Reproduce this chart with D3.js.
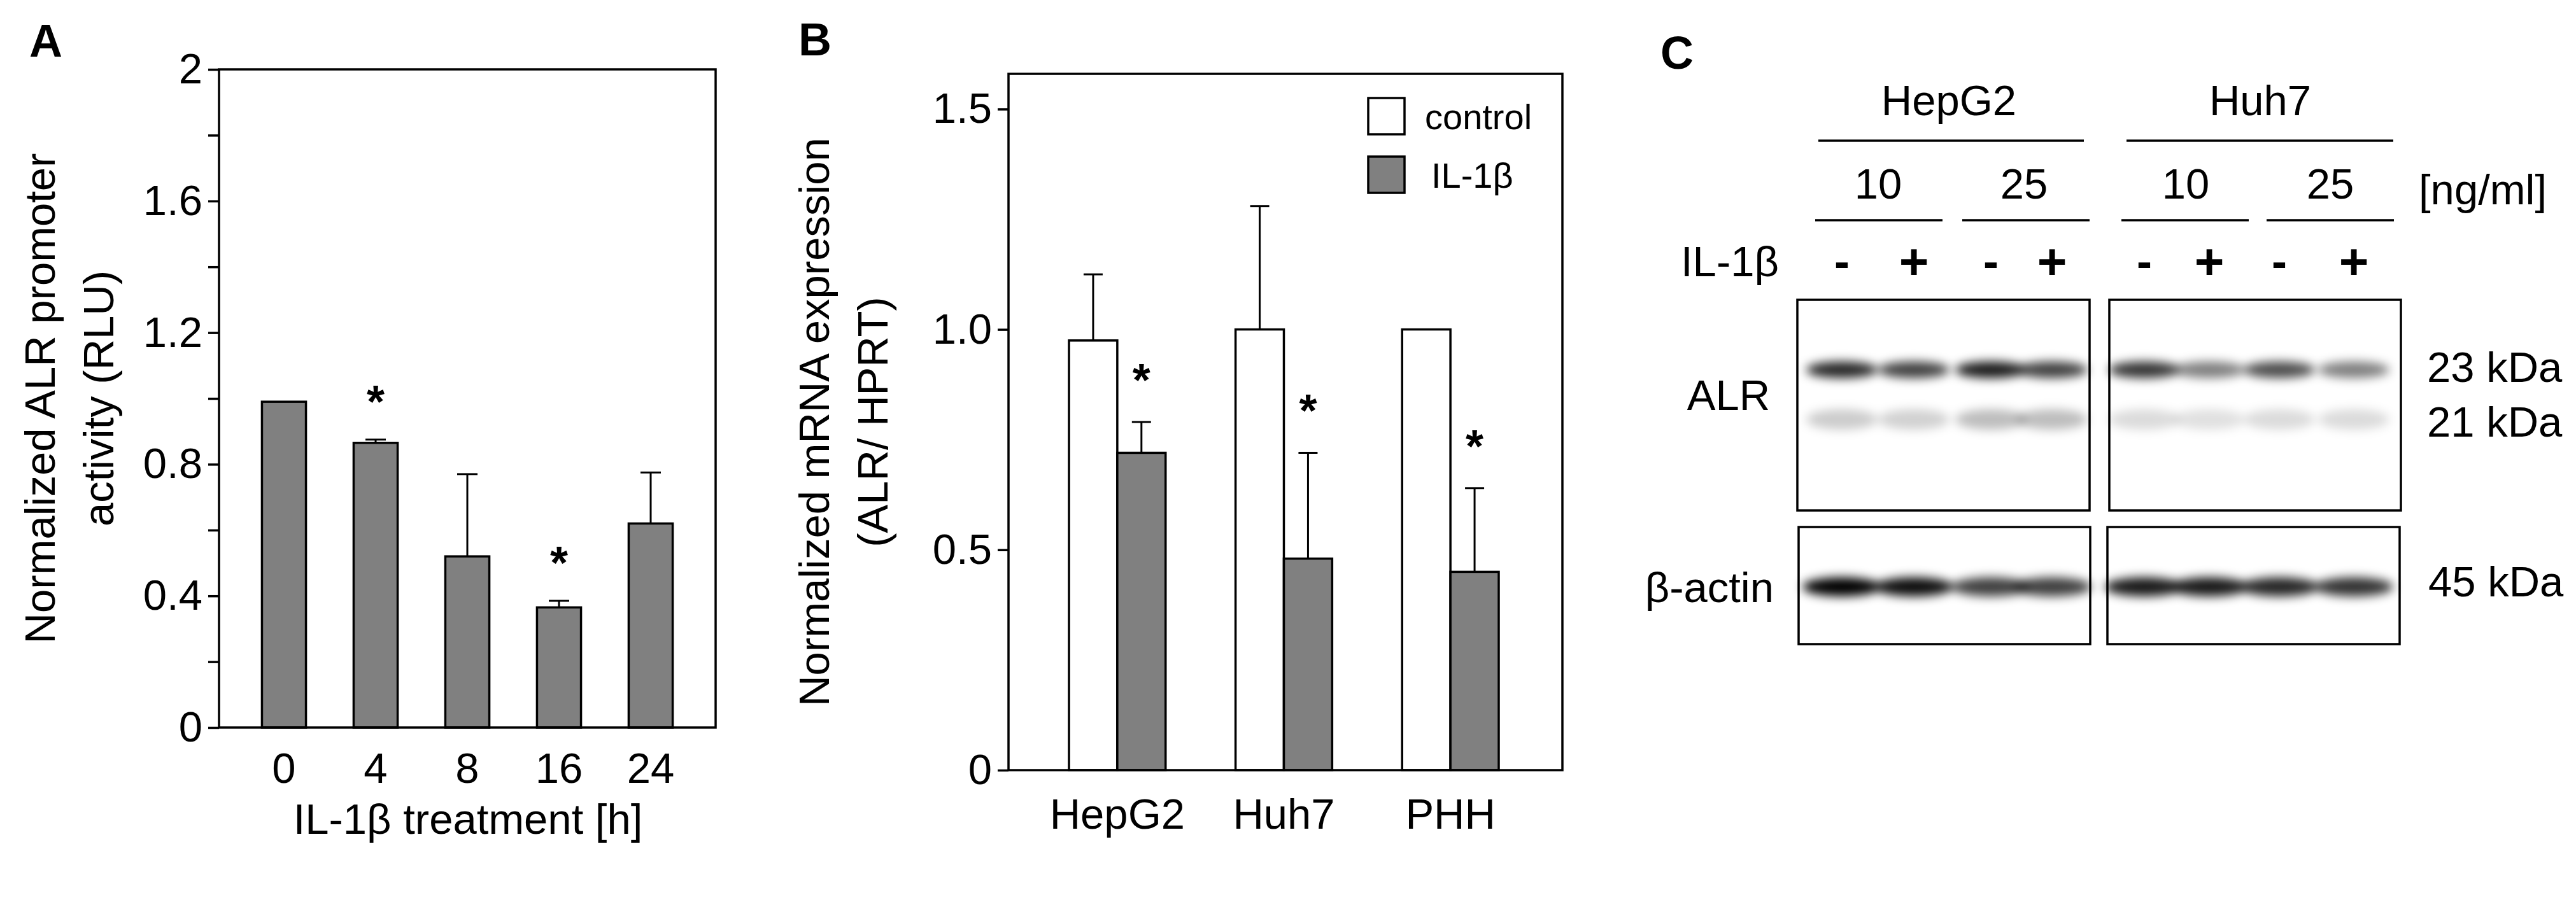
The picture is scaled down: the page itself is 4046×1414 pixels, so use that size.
<!DOCTYPE html>
<html>
<head>
<meta charset="utf-8">
<script src="https://cdn.jsdelivr.net/npm/d3@7"></script>
<style>
body{margin:0;background:#fff}
text{font-family:"Liberation Sans",Arial,sans-serif;fill:#000}
</style>
</head>
<body>
<svg id="fig" width="4046" height="1414"></svg>
<script>
// panel A data
var hoursA=["0","4","8","16","24"];
var valA=[0.99,0.865,0.52,0.365,0.62];
var errA=[null,0.875,0.77,0.385,0.775];
var starA=[false,true,false,true,false];
var ticksA=[0,0.2,0.4,0.6,0.8,1.0,1.2,1.4,1.6,1.8,2.0];

// panel B data
var cellsB=["HepG2","Huh7","PHH"];
var ctrlB=[0.975,1.0,1.0];
var ctrlErrB=[1.125,1.28,null];
var ilB=[0.72,0.48,0.45];
var ilErrB=[0.79,0.72,0.64];
var ticksB=[0,0.5,1.0,1.5];

// panel C blot (relative band darkness per lane)
var lanesC=["-","+","-","+","-","+","-","+"];
var alrUpper=[0.85,0.75,0.9,0.75,0.8,0.5,0.7,0.5];
var alrLower=[0.2,0.18,0.26,0.26,0.14,0.12,0.14,0.14];
var actin=[1.0,0.95,0.75,0.75,0.9,0.9,0.85,0.8];

var svg=d3.select("#fig");
var grey="#808080";
var fs=67;

var defs=svg.append("defs");
defs.append("filter").attr("id","blur").attr("x","-50%").attr("y","-100%").attr("width","200%").attr("height","300%")
  .append("feGaussianBlur").attr("stdDeviation","8 8");

var label=function(g,t,x,y,size,opts)
{
  opts=opts||{};
  return g.append("text").attr("x",x).attr("y",y).attr("font-size",size)
    .attr("text-anchor",opts.anchor||"middle").attr("dominant-baseline","central")
    .attr("font-weight",opts.bold?"bold":"normal")
    .attr("transform",opts.rot?"rotate(-90,"+x+","+y+")":null)
    .text(t);
}

// ---------- A ----------
var gA=svg.append("g");
var xA=d3.scaleBand().domain(hoursA).range([374,1094]).paddingInner(0.52).paddingOuter(0.26);
var yA=d3.scaleLinear().domain([0,2]).range([1143,109]);
gA.append("g").attr("transform","translate(344,0)")
  .call(d3.axisLeft(yA).tickValues(ticksA).tickSize(17)
    .tickFormat(function(d){return (Math.round(d*10)%4==0)?d3.format("")(+d.toFixed(1)):"";}))
  .call(function(a){a.select(".domain").remove();
    a.selectAll("line").attr("stroke-width",3.5);
    a.selectAll("text").attr("font-size",fs).attr("font-family","Liberation Sans").attr("dx",-6);});
gA.selectAll(".bar").data(valA).enter().append("rect")
  .attr("x",function(d,i){return xA(hoursA[i]);})
  .attr("width",xA.bandwidth())
  .attr("y",function(d){return yA(d);})
  .attr("height",function(d){return yA(0)-yA(d);})
  .attr("fill",grey).attr("stroke","#000").attr("stroke-width",3.5);
errA.forEach(function(e,i)
{
  if(e==null)return;
  var cx=xA(hoursA[i])+xA.bandwidth()/2;
  gA.append("line").attr("x1",cx).attr("x2",cx).attr("y1",yA(valA[i])).attr("y2",yA(e)).attr("stroke","#000").attr("stroke-width",3);
  gA.append("line").attr("x1",cx-16).attr("x2",cx+16).attr("y1",yA(e)).attr("y2",yA(e)).attr("stroke","#000").attr("stroke-width",3);
  if(starA[i]) label(gA,"*",cx,yA(e)-60,72,{bold:true});
});
gA.append("rect").attr("x",344).attr("y",109).attr("width",780).attr("height",1034)
  .attr("fill","none").attr("stroke","#000").attr("stroke-width",3.5);
hoursA.forEach(function(h){label(gA,h,xA(h)+xA.bandwidth()/2,1206,fs);});
label(gA,"IL-1β treatment [h]",735,1286,fs);
label(gA,"Normalized ALR promoter",62,626,fs,{rot:true});
label(gA,"activity (RLU)",154,626,fs,{rot:true});
label(gA,"A",72,64,72,{bold:true});

// ---------- B ----------
var gB=svg.append("g");
var x0B=d3.scaleBand().domain(cellsB).range([1679,2354]).paddingInner(0.42);
var yB=d3.scaleLinear().domain([0,1.58]).range([1210,116]);
var bw=x0B.bandwidth()/2;
gB.append("g").attr("transform","translate(1584,0)")
  .call(d3.axisLeft(yB).tickValues(ticksB).tickSize(17)
    .tickFormat(function(d){return d==0?"0":d3.format(".1f")(d);}))
  .call(function(a){a.select(".domain").remove();
    a.selectAll("line").attr("stroke-width",3.5);
    a.selectAll("text").attr("font-size",fs).attr("font-family","Liberation Sans").attr("dx",-6);});
var drawSeries=function(vals,errs,fill,off,star)
{
  vals.forEach(function(v,i)
  {
    var x=x0B(cellsB[i])+off;
    gB.append("rect").attr("x",x).attr("width",bw).attr("y",yB(v)).attr("height",yB(0)-yB(v))
      .attr("fill",fill).attr("stroke","#000").attr("stroke-width",3.5);
    var cx=x+bw/2;
    if(errs[i]!=null)
    {
      gB.append("line").attr("x1",cx).attr("x2",cx).attr("y1",yB(v)).attr("y2",yB(errs[i])).attr("stroke","#000").attr("stroke-width",3);
      gB.append("line").attr("x1",cx-15).attr("x2",cx+15).attr("y1",yB(errs[i])).attr("y2",yB(errs[i])).attr("stroke","#000").attr("stroke-width",3);
    }
    if(star) label(gB,"*",cx,yB(errs[i])-66,72,{bold:true});
  });
}
drawSeries(ctrlB,ctrlErrB,"#fff",0,false);
drawSeries(ilB,ilErrB,grey,bw,true);
gB.append("rect").attr("x",1584).attr("y",116).attr("width",870).attr("height",1094)
  .attr("fill","none").attr("stroke","#000").attr("stroke-width",3.5);
cellsB.forEach(function(c){label(gB,c,x0B(c)+bw,1278,fs);});
label(gB,"Normalized mRNA expression",1278,663,fs,{rot:true});
label(gB,"(ALR/ HPRT)",1370,663,fs,{rot:true});
label(gB,"B",1280,62,72,{bold:true});
var leg=[["control","#fff",154],["IL-1β",grey,246]];
leg.forEach(function(l)
{
  gB.append("rect").attr("x",2149).attr("y",l[2]).attr("width",57).attr("height",57)
    .attr("fill",l[1]).attr("stroke","#000").attr("stroke-width",3.5);
  label(gB,l[0],l[0]=="control"?2238:2248,l[2]+29,56,{anchor:"start"});
});

// ---------- C ----------
var gC=svg.append("g");
label(gC,"C",2634,83,72,{bold:true});
var laneX=[2893,3006,3127,3223,3368,3470,3580,3697];
var line=function(x1,x2,y){gC.append("line").attr("x1",x1).attr("x2",x2).attr("y1",y).attr("y2",y).attr("stroke","#000").attr("stroke-width",3.5);}
label(gC,"HepG2",3061,157,fs); label(gC,"Huh7",3550,157,fs);
line(2856,3273,221); line(3340,3759,221);
[["10",2950,2851,3051],["25",3179,3082,3282],["10",3433,3332,3532],["25",3660,3560,3760]].forEach(function(d)
{
  label(gC,d[0],d[1],288,fs); line(d[2],d[3],346);
});
label(gC,"[ng/ml]",3799,297,fs,{anchor:"start"});
label(gC,"IL-1β",2794,410,fs,{anchor:"end"});
lanesC.forEach(function(s,i){label(gC,s==="-"?"-":"+",laneX[i],410,s==="-"?72:80,{bold:true});});

var blot=gC.append("g").attr("filter","url(#blur)");
var band=function(vals,y,h,w)
{
  blot.selectAll(null).data(vals).enter().append("ellipse")
    .attr("cx",function(d,i){return laneX[i];})
    .attr("cy",y).attr("rx",w).attr("ry",h)
    .attr("fill","#000").attr("fill-opacity",function(d){return d;});
}
band(alrUpper,581,13,56);
band(alrLower,659,16,56);
band(actin,922,15,62);
[[2823,471,459,331],[3313,471,458,331],[2825,828,458,184],[3310,828,459,184]].forEach(function(b)
{
  gC.append("rect").attr("x",b[0]).attr("y",b[1]).attr("width",b[2]).attr("height",b[3])
    .attr("fill","none").attr("stroke","#000").attr("stroke-width",3.5);
});
label(gC,"ALR",2715,620,fs);
label(gC,"β-actin",2786,922,fs,{anchor:"end"});
label(gC,"23 kDa",3812,576,fs,{anchor:"start"});
label(gC,"21 kDa",3812,662,fs,{anchor:"start"});
label(gC,"45 kDa",3814,913,fs,{anchor:"start"});
</script>
</body>
</html>
